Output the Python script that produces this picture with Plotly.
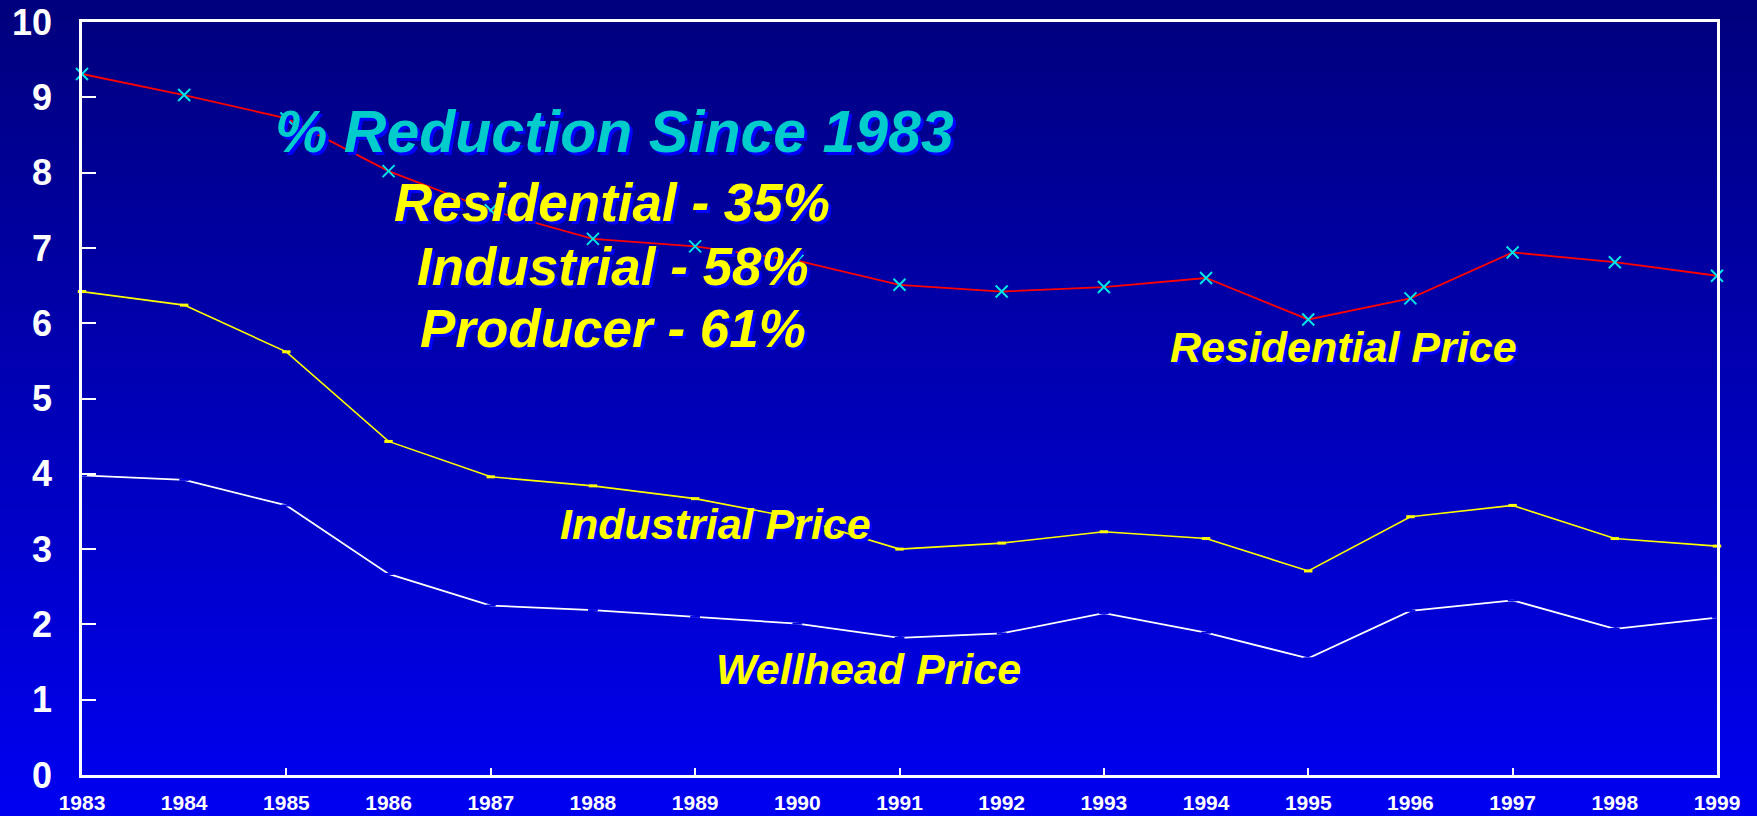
import plotly.graph_objects as go

years = list(range(1983, 2000))
residential = [9.31, 9.03, 8.72, 8.02, 7.50, 7.12, 7.02, 6.83, 6.51, 6.42, 6.48, 6.60, 6.05, 6.33, 6.94, 6.81, 6.63]
industrial = [6.42, 6.24, 5.62, 4.43, 3.96, 3.84, 3.67, 3.41, 3.00, 3.08, 3.23, 3.14, 2.71, 3.43, 3.58, 3.14, 3.04]
wellhead = [3.98, 3.92, 3.58, 2.67, 2.25, 2.19, 2.10, 2.01, 1.82, 1.88, 2.15, 1.89, 1.55, 2.18, 2.32, 1.94, 2.09]
y_ticks = list(range(0, 11))
odd_ticks = list(range(1983, 2000, 2))

W, H = 1757, 816
ML, MR, MT, MB = 82, 40, 22, 41
PW, PH = W - ML - MR, H - MT - MB

FONT = "Liberation Sans, Arial, sans-serif"
SHADOW = "3px 3px 0px #0000ff"

fig = go.Figure()

fig.add_trace(go.Scatter(x=years, y=wellhead, mode="lines+markers", cliponaxis=False,
                         line=dict(color="white", width=1.8),
                         marker=dict(symbol="line-ew", size=7, line=dict(color="#0000e0", width=2)),
                         hoverinfo="skip", showlegend=False))
fig.add_trace(go.Scatter(x=years, y=industrial, mode="lines+markers", cliponaxis=False,
                         line=dict(color="#ffff00", width=1.6),
                         marker=dict(symbol="line-ew", size=6, line=dict(color="#ffff00", width=3)),
                         hoverinfo="skip", showlegend=False))
fig.add_trace(go.Scatter(x=years, y=residential, mode="lines+markers", cliponaxis=False,
                         line=dict(color="#ff0000", width=1.8),
                         marker=dict(symbol="x-thin", size=12, line=dict(color="#00e5e5", width=2)),
                         hoverinfo="skip", showlegend=False))
# dummy trace for tick overlay axis
fig.add_trace(go.Scatter(x=[1983], y=[0], xaxis="x2", mode="markers", marker=dict(opacity=0),
                         hoverinfo="skip", showlegend=False))

# background gradient bands
n = 90
ybot = -MB / PH
ytop = (H - MB) / PH
top_c = (0, 0, 125)
bot_c = (0, 0, 242)
shapes = []
for i in range(n):
    f0 = i / n
    f1 = (i + 1) / n
    t = (i + 0.5) / n  # 0 bottom -> 1 top
    c = tuple(int(round(bot_c[k] + (top_c[k] - bot_c[k]) * t)) for k in range(3))
    shapes.append(dict(type="rect", xref="paper", yref="paper", layer="below",
                       x0=-0.1, x1=1.1,
                       y0=ybot + (ytop - ybot) * f0 - 0.002, y1=ybot + (ytop - ybot) * f1 + 0.002,
                       fillcolor=f"rgb{c}", line=dict(width=0)))

def px_x(x):
    return (x - ML) / PW

def px_y(y):
    return (H - MB - y) / PH

annos = []
def add_text(text, xc, yc, size, color):
    annos.append(dict(text=text, xref="paper", yref="paper", x=px_x(xc), y=px_y(yc),
                      xanchor="center", yanchor="middle", showarrow=False,
                      font=dict(family=FONT, size=size, color=color, weight="bold",
                                style="italic", shadow=SHADOW)))

add_text("% Reduction Since 1983", 614, 132, 59, "#00cccc")
add_text("Residential - 35%", 612, 202, 53, "#ffff00")
add_text("Industrial - 58%", 613, 266, 53, "#ffff00")
add_text("Producer - 61%", 613, 328, 53, "#ffff00")
add_text("Residential Price", 1343, 347, 43, "#ffff00")
add_text("Industrial Price", 715, 524, 43, "#ffff00")
add_text("Wellhead Price", 868, 669, 43, "#ffff00")

fig.update_layout(
    template="none",
    width=W, height=H, autosize=False,
    margin=dict(l=ML, r=MR, t=MT, b=MB, pad=0),
    paper_bgcolor="rgb(0,0,180)",
    plot_bgcolor="rgba(0,0,0,0)",
    shapes=shapes,
    annotations=annos,
    xaxis=dict(range=[1983, 1999], tickvals=years, ticktext=[str(y) for y in years],
               ticks="", showgrid=False, zeroline=False, automargin=False,
               showline=True, linecolor="white", linewidth=2.5, mirror=True,
               tickfont=dict(family=FONT, size=21, color="white", weight="bold"),
               ticklabelstandoff=7),
    xaxis2=dict(range=[1983, 1999], overlaying="x", side="bottom", tickvals=odd_ticks,
                ticks="inside", ticklen=7, tickwidth=2, tickcolor="white", automargin=False,
                showticklabels=False, showgrid=False, zeroline=False, showline=False),
    yaxis=dict(range=[0, 10], tickvals=y_ticks, ticks="inside", ticklen=14, tickwidth=2,
               tickcolor="white", showgrid=False, zeroline=False, automargin=False,
               showline=True, linecolor="white", linewidth=2.5, mirror=True,
               tickfont=dict(family=FONT, size=36, color="white", weight="bold"),
               ticklabelstandoff=20),
)

fig.write_html("out.html",
               config={"displayModeBar": False, "responsive": False},
               post_script="document.body.style.margin='0';document.body.style.overflow='hidden';"
                           "document.body.style.background='rgb(0,0,200)';")
